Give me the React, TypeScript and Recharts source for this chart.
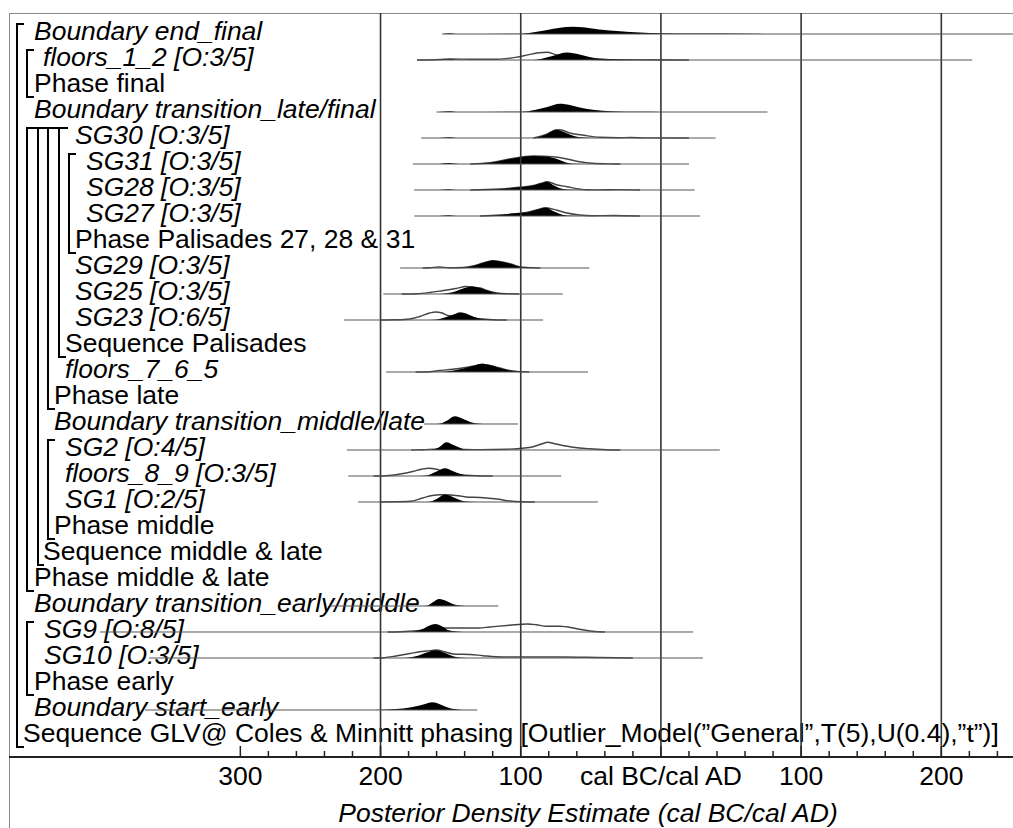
import { ComposedChart, Area, Line, XAxis, YAxis, ReferenceLine } from "recharts";

type Pt = [number, number]; // [year, density height]

const FONT = '"Liberation Sans", Arial, sans-serif';
const FS = 26.5;

// ---- rows (top to bottom) ----
const labels = [
  "Boundary end_final",
  "floors_1_2 [O:3/5]",
  "Phase final",
  "Boundary transition_late/final",
  "SG30 [O:3/5]",
  "SG31 [O:3/5]",
  "SG28 [O:3/5]",
  "SG27 [O:3/5]",
  "Phase Palisades 27, 28 & 31",
  "SG29 [O:3/5]",
  "SG25 [O:3/5]",
  "SG23 [O:6/5]",
  "Sequence Palisades",
  "floors_7_6_5",
  "Phase late",
  "Boundary transition_middle/late",
  "SG2 [O:4/5]",
  "floors_8_9 [O:3/5]",
  "SG1 [O:2/5]",
  "Phase middle",
  "Sequence middle & late",
  "Phase middle & late",
  "Boundary transition_early/middle",
  "SG9 [O:8/5]",
  "SG10 [O:3/5]",
  "Phase early",
  "Boundary start_early",
  "Sequence GLV@ Coles & Minnitt phasing [Outlier_Model(\u201DGeneral\u201D,T(5),U(0.4),\u201Dt\u201D)]",
];

// axis ticks (years, BC negative)
const axisTicks = [
  -300, -280, -260, -240, -220, -200, -180, -160, -140, -120, -100, -80, -60, -40, -20,
  0, 20, 40, 60, 80, 100, 120, 140, 160, 180, 200, 220, 240,
];
const gridYears = [-200, -100, 0, 100, 200];

// ---- distributions: posterior (black) and likelihood (outline) ----
const postEndFinal: Pt[] = [[-156, 0], [-150, 0.8], [-145, 0], [-101, 0.3], [-94, 1], [-83, 3.5], [-72, 6.2], [-63, 7.2], [-54, 6.5], [-44, 4.5], [-29, 2.8], [-15, 1.6], [-1, 0.8], [28, 0.5], [65, 0.3], [75, 0]];
const postFloors12: Pt[] = [[-158, 0], [-150, 0.8], [-144, 0], [-91, 0], [-83, 2], [-76, 4.5], [-67, 7.5], [-58, 5.5], [-51, 3], [-44, 1.5], [-29, 0.6], [-8, 0.2], [13, 0]];
const likeFloors12: Pt[] = [[-174, 0], [-158, 0.5], [-150, 1], [-136, 0.8], [-117, 0.7], [-101, 3.3], [-87, 7.3], [-81, 7.7], [-76, 5.7], [-67, 3], [-58, 1.5], [-44, 0.5], [-15, 0.1], [20, 0]];
const postLateFinal: Pt[] = [[-158, 0], [-151, 0.8], [-144, 0], [-99, 0.3], [-90, 2], [-81, 5], [-72, 8.3], [-65, 7], [-58, 4.5], [-47, 2], [-36, 0.8], [-15, 0.2], [0, 0]];
const postSG30: Pt[] = [[-158, 0], [-151, 0.8], [-144, 0], [-91, 0], [-86, 1.5], [-81, 4], [-75, 8.3], [-70, 6.5], [-65, 3.5], [-59, 1], [-51, 0.2], [-44, 0]];
const likeSG30: Pt[] = [[-91, 0], [-83, 3], [-75, 8], [-72, 8.3], [-65, 5], [-55, 2.7], [-44, 0.7], [-30, 0.3], [-22, 0.5], [-10, 0.1], [20, 0]];
const postSG31: Pt[] = [[-158, 0], [-151, 1], [-144, 0], [-136, 0], [-129, 0.3], [-122, 1.2], [-115, 3], [-108, 5], [-101, 6.5], [-91, 8], [-81, 7.3], [-74, 5], [-67, 1.3], [-61, 0.3], [-51, 0]];
const likeSG31: Pt[] = [[-136, 0], [-122, 1.2], [-108, 5], [-91, 8], [-77, 7.3], [-67, 5], [-58, 2.3], [-49, 0.7], [-36, 0.1], [-29, 0]];
const postSG28: Pt[] = [[-158, 0], [-151, 0.8], [-144, 0], [-136, 0], [-122, 0.5], [-115, 1], [-108, 1.8], [-101, 2.7], [-91, 4.5], [-86, 6.5], [-81, 8.3], [-77, 5], [-72, 1.7], [-67, 0.5], [-58, 0]];
const likeSG28: Pt[] = [[-136, 0], [-115, 1], [-101, 2.7], [-91, 4.5], [-86, 6.5], [-81, 8.3], [-74, 5], [-67, 3.3], [-58, 1], [-53, 0.3], [-44, 0.1], [-31, 0.4], [-15, 0]];
const postSG27: Pt[] = [[-158, 0], [-151, 0.8], [-144, 0], [-129, 0], [-115, 1], [-106, 2.5], [-96, 3.5], [-89, 6], [-82, 8.3], [-77, 5], [-72, 2], [-67, 0.5], [-58, 0]];
const likeSG27: Pt[] = [[-129, 0], [-115, 1], [-96, 3.5], [-89, 6], [-82, 8.3], [-74, 5.7], [-67, 3], [-58, 1], [-49, 0.3], [-34, 0.5], [-15, 0]];
const postSG29: Pt[] = [[-148, 0], [-141, 0.5], [-134, 2], [-127, 5], [-120, 7.5], [-113, 6], [-106, 3.5], [-101, 1.3], [-94, 0.4], [-86, 0]];
const likeSG29: Pt[] = [[-170, 0], [-165, 0.2], [-158, 1], [-151, 0.2], [-141, 0.5], [-134, 2], [-127, 5], [-120, 7.3], [-113, 6], [-106, 3.5], [-101, 1.3], [-94, 0.4], [-86, 0]];
const postSG25: Pt[] = [[-158, 0], [-148, 2], [-141, 5.5], [-135, 7.5], [-129, 6], [-123, 3], [-117, 1], [-110, 0.2], [-101, 0]];
const likeSG25: Pt[] = [[-185, 0], [-174, 0.3], [-165, 1.5], [-156, 3.3], [-146, 5.5], [-139, 7.5], [-134, 7], [-129, 6], [-123, 3], [-117, 1], [-110, 0.2], [-101, 0]];
const postSG23: Pt[] = [[-165, 0], [-160, 0.5], [-153, 3], [-147, 6], [-143, 7.7], [-139, 6.5], [-134, 3.5], [-129, 1.5], [-123, 0.5], [-117, 0]];
const likeSG23: Pt[] = [[-200, 0], [-189, 0.2], [-179, 1], [-172, 3.5], [-165, 7], [-161, 8], [-156, 7], [-152, 4.5], [-148, 3.5], [-141, 3], [-134, 2], [-127, 1], [-120, 0.3], [-110, 0]];
const postFloors765: Pt[] = [[-165, 0], [-156, 0.3], [-148, 1.5], [-141, 3.5], [-134, 6], [-128, 8.3], [-122, 7], [-115, 4], [-108, 1.5], [-101, 0.4], [-94, 0]];
const likeFloors765: Pt[] = [[-175, 0], [-165, 0.3], [-158, 1.5], [-151, 2.5], [-144, 3.5], [-137, 5], [-130, 7], [-128, 7.5], [-122, 6.5], [-115, 4], [-108, 1.5], [-101, 0.4], [-94, 0]];
const postMiddleLate: Pt[] = [[-163, 0], [-158, 0.3], [-153, 3], [-147, 7.7], [-141, 5], [-136, 2], [-131, 0.5], [-127, 0]];
const postSG2: Pt[] = [[-168, 0], [-163, 0.3], [-158, 3], [-153, 7.7], [-148, 5], [-143, 2], [-139, 0.5], [-134, 0]];
const likeSG2: Pt[] = [[-178, 0], [-170, 0.3], [-158, 1], [-150, 1], [-140, 0.5], [-129, 0.4], [-110, 0.8], [-94, 2.5], [-84, 6.5], [-81, 7.7], [-75, 6], [-65, 3.3], [-51, 1.3], [-39, 0.3], [-29, 0]];
const postFloors89: Pt[] = [[-172, 0], [-167, 0.5], [-160, 4.5], [-154, 7.7], [-148.5, 5], [-143.5, 2.3], [-139, 0.8], [-131, 0.2], [-124, 0]];
const likeFloors89: Pt[] = [[-205, 0], [-196, 0.3], [-186, 2], [-177, 4.5], [-170, 7], [-166, 7.7], [-160, 6.7], [-154, 4], [-148, 2.5], [-141, 1], [-131, 0.3], [-120, 0]];
const postSG1: Pt[] = [[-170, 0], [-165, 0.3], [-160, 3], [-154, 7.4], [-148.5, 5], [-143.5, 2], [-139, 0.5], [-131, 0]];
const likeSG1: Pt[] = [[-200, 0], [-191, 0.2], [-179, 0.7], [-170, 4], [-163, 6.5], [-158, 7.3], [-150, 7], [-143, 6], [-139, 5], [-129, 4.5], [-117, 3], [-108, 1], [-99, 0.2], [-90, 0]];
const postEarlyMiddle: Pt[] = [[-172, 0], [-167, 0.3], [-163, 3.5], [-158, 7], [-153, 5], [-148.5, 2], [-143.5, 0.5], [-139, 0]];
const postSG9: Pt[] = [[-182, 0], [-177, 0.3], [-170, 3], [-165, 6.5], [-161, 8], [-156, 5.5], [-152, 2], [-146, 0.5], [-141, 0]];
const likeSG9: Pt[] = [[-195, 0], [-186, 0.3], [-172, 1.5], [-161, 3], [-155, 4], [-130, 4], [-122, 5], [-108, 6.7], [-95, 8], [-89, 7.3], [-82, 5.7], [-72, 5.7], [-60, 3.3], [-49, 0.7], [-40, 0]];
const postSG10: Pt[] = [[-186, 0], [-181, 0.3], [-174, 2], [-167, 5.5], [-161, 7.7], [-155.6, 6], [-150.6, 3], [-146, 1], [-141, 0.3], [-136, 0]];
const likeSG10: Pt[] = [[-205, 0], [-198, 0.3], [-189, 2], [-179, 4.5], [-172, 6.3], [-167, 7], [-160, 8], [-154, 6], [-148, 4], [-136, 3.5], [-127, 2.3], [-113, 1], [-70, 1], [-44, 0.5], [-20, 0]];
const postStartEarly: Pt[] = [[-210, 0], [-201, 0.3], [-189, 1], [-179, 2.5], [-172, 4.5], [-167, 6.5], [-163.5, 7.7], [-159, 6.5], [-154, 3.5], [-149, 1.2], [-143.5, 0.3], [-138, 0]];

// extent of each row's range line (years)
const lineStart = [-156, -174, null, -160, -171, -177, -176, -176, null, -186, -198, -226, null, -196, null, -169, -224, -223, -216, null, null, null, -236, -400, -365, null, -368, null];
const lineEnd = [260, 222, null, 76, 39, 20, 24, 28, null, -51, -70, -84, null, -52, null, -102, 42, -71, -45, null, null, null, -116, 23, 30, null, -131, null];

const dists: { row: number; post: Pt[]; like?: Pt[] }[] = [
  { row: 0, post: postEndFinal },
  { row: 1, post: postFloors12, like: likeFloors12 },
  { row: 3, post: postLateFinal },
  { row: 4, post: postSG30, like: likeSG30 },
  { row: 5, post: postSG31, like: likeSG31 },
  { row: 6, post: postSG28, like: likeSG28 },
  { row: 7, post: postSG27, like: likeSG27 },
  { row: 9, post: postSG29, like: likeSG29 },
  { row: 10, post: postSG25, like: likeSG25 },
  { row: 11, post: postSG23, like: likeSG23 },
  { row: 13, post: postFloors765, like: likeFloors765 },
  { row: 15, post: postMiddleLate },
  { row: 16, post: postSG2, like: likeSG2 },
  { row: 17, post: postFloors89, like: likeFloors89 },
  { row: 18, post: postSG1, like: likeSG1 },
  { row: 22, post: postEarlyMiddle },
  { row: 23, post: postSG9, like: likeSG9 },
  { row: 24, post: postSG10, like: likeSG10 },
  { row: 26, post: postStartEarly },
];

// ---- layout ----
const X_MIN = -465;
const X_MAX = 260;
const PX_PER_YEAR = 1.402;
const PLOT_LEFT = 9;
const PLOT_TOP = 13;
const PLOT_W = (X_MAX - X_MIN) * PX_PER_YEAR;
const ROW_PX = 26;
const Y_MIN = -21 / ROW_PX;
const Y_MAX = Y_MIN + 744 / ROW_PX;
const AXIS_H = 71;
const CHART_W = PLOT_LEFT + PLOT_W + 10;
const CHART_H = PLOT_TOP + 744 + AXIS_H;

// label left edges (px) and group brackets
const labelX = [34, 43, 34, 34, 75, 86, 86, 86, 75, 75, 75, 75, 65, 65, 54, 54, 65, 65, 65, 54, 43, 34, 34, 44, 44, 34, 34, 23];
const brackets = [
  { x: 17, from: 0, to: 27, top: 7, bottom: 7 },
  { x: 27, from: 1, to: 2, top: 7, bottom: 7 },
  { x: 27, from: 4, to: 21, top: 11, bottom: 7 },
  { x: 38, from: 4, to: 20, top: 10, bottom: 6 },
  { x: 48, from: 4, to: 14, top: 11, bottom: 7 },
  { x: 59, from: 4, to: 12, top: 9, bottom: 7 },
  { x: 69, from: 5, to: 8, top: 7, bottom: 7 },
  { x: 48, from: 16, to: 19, top: 7, bottom: 7 },
  { x: 27, from: 23, to: 25, top: 7, bottom: 7 },
];

const rowY = (r: number) => PLOT_TOP + (r - Y_MIN) * ROW_PX;

function RowLabels() {
  return (
    <g>
      {labels.map((text, i) => {
        const plain = /^(Phase|Sequence)/.test(text);
        return (
          <text
            key={i}
            x={labelX[i]}
            y={rowY(i) + 6}
            fontFamily={FONT}
            fontSize={FS}
            fontStyle={plain ? "normal" : "italic"}
            fill="#000"
          >
            {text}
          </text>
        );
      })}
    </g>
  );
}

function AxisTick(props: any) {
  const { x, y, payload } = props;
  const v = payload.value as number;
  const major = v % 100 === 0;
  const text = v < 0 ? String(-v) : v === 0 ? "cal BC/cal AD" : String(v);
  return (
    <g>
      <line x1={x} x2={x} y1={y} y2={y - (major ? 11 : 6)} stroke="#222" strokeWidth={1.5} />
      {major && (
        <text x={x} y={y + 28} textAnchor="middle" fontFamily={FONT} fontSize={FS} fill="#000">
          {text}
        </text>
      )}
    </g>
  );
}

function Brackets() {
  return (
    <g>
      {brackets.map((b, i) => {
        const y1 = rowY(b.from) - 10;
        const y2 = rowY(b.to) + 11;
        return (
          <path
            key={i}
            d={`M${b.x + b.top},${y1} H${b.x} V${y2} H${b.x + b.bottom}`}
            fill="none"
            stroke="#000"
            strokeWidth={2}
          />
        );
      })}
    </g>
  );
}

const toSeries = (pts: Pt[], row: number) =>
  pts.map(([x, h]) => ({ x, v: row - h / ROW_PX }));

export default function App() {
  return (
    <div
      style={{
        position: "fixed",
        left: 0,
        top: 0,
        width: 1013,
        height: 828,
        overflow: "hidden",
        background: "#fff",
      }}
    >
      <div
        style={{
          position: "absolute",
          left: PLOT_LEFT - 0.5,
          top: PLOT_TOP - 0.5,
          width: 2000,
          height: 2000,
          borderLeft: "1.5px solid #8a8a8a",
          borderTop: "1.5px solid #8a8a8a",
        }}
      />
      <div style={{ position: "absolute", left: 0, top: 0 }}>
        <ComposedChart
          width={CHART_W}
          height={CHART_H}
          margin={{ top: PLOT_TOP, left: PLOT_LEFT, right: CHART_W - PLOT_LEFT - PLOT_W, bottom: 0 }}
        >
          <RowLabels />
          <XAxis
            dataKey="x"
            type="number"
            domain={[X_MIN, X_MAX]}
            allowDataOverflow
            ticks={axisTicks}
            interval={0}
            tickLine={false}
            tickSize={0}
            tickMargin={0}
            tick={<AxisTick />}
            axisLine={{ stroke: "#222", strokeWidth: 2 }}
            height={AXIS_H}
          />
          <YAxis
            type="number"
            domain={[Y_MIN, Y_MAX]}
            reversed
            allowDataOverflow
            hide
          />
          {gridYears.map((g) => (
            <ReferenceLine key={g} x={g} stroke="#333" strokeWidth={1.6} />
          ))}
          {lineStart.map((s, r) =>
            s == null ? null : (
              <Line
                key={`base-${r}`}
                data={[{ x: s, v: r }, { x: lineEnd[r], v: r }]}
                dataKey="v"
                stroke="#555"
                strokeWidth={1}
                dot={false}
                activeDot={false}
                isAnimationActive={false}
              />
            )
          )}
          {dists.map((d) =>
            d.like ? (
              <Area
                key={`like-${d.row}`}
                data={toSeries(d.like, d.row)}
                dataKey="v"
                baseValue={d.row}
                type="monotone"
                stroke="#444"
                strokeWidth={1.4}
                fill="none"
                dot={false}
                activeDot={false}
                isAnimationActive={false}
              />
            ) : null
          )}
          {dists.map((d) => (
            <Area
              key={`post-${d.row}`}
              data={toSeries(d.post, d.row)}
              dataKey="v"
              baseValue={d.row}
              type="monotone"
              stroke="none"
              fill="#000"
              fillOpacity={1}
              dot={false}
              activeDot={false}
              isAnimationActive={false}
            />
          ))}
          <Brackets />
          <text
            x={588}
            y={822}
            textAnchor="middle"
            fontFamily={FONT}
            fontSize={FS}
            fontStyle="italic"
            fill="#000"
          >
            Posterior Density Estimate (cal BC/cal AD)
          </text>
        </ComposedChart>
      </div>
    </div>
  );
}
